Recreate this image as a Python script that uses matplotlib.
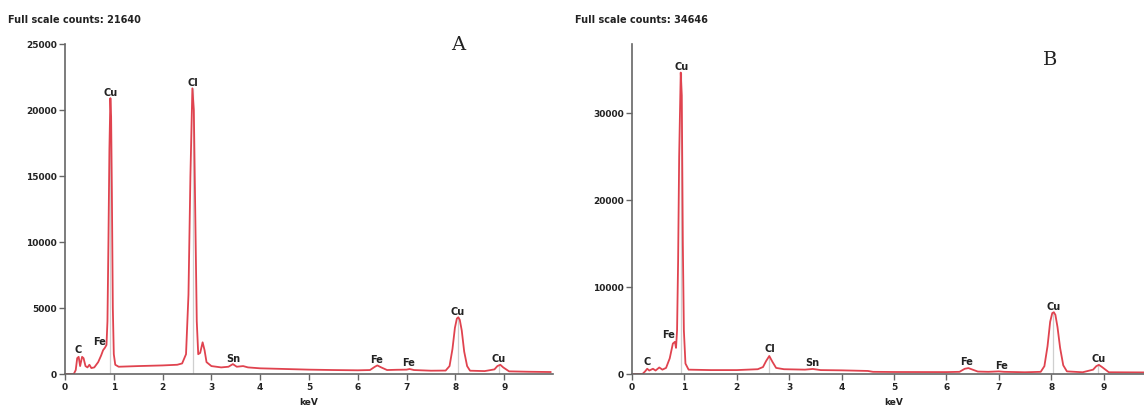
import numpy as np
import matplotlib
matplotlib.use("Agg")
import matplotlib.pyplot as plt

# spectrum A (keV, counts)
keA = [0.0, 0.18, 0.22, 0.25, 0.28, 0.31, 0.35, 0.38, 0.42, 0.46, 0.50, 0.54, 0.60, 0.68, 0.74,
       0.78, 0.82, 0.85, 0.87, 0.89, 0.91, 0.93, 0.945, 0.96, 0.98, 1.00, 1.03, 1.1, 1.5, 2.0,
       2.3, 2.4, 2.48, 2.53, 2.57, 2.61, 2.64, 2.67, 2.70, 2.73, 2.77, 2.82, 2.86, 2.9, 3.0,
       3.2, 3.35, 3.44, 3.52, 3.65, 3.75, 4.0, 4.5, 5.0, 5.5, 6.0, 6.25, 6.35, 6.4, 6.48, 6.6,
       6.8, 7.0, 7.06, 7.15, 7.5, 7.8, 7.88, 7.94, 7.99, 8.03, 8.06, 8.09, 8.13, 8.18, 8.24,
       8.3, 8.6, 8.8, 8.86, 8.92, 8.98, 9.1, 9.5, 9.95]
cntA = [0, 0, 300, 1200, 1300, 600, 1300, 1200, 600, 500, 700, 450, 500, 900, 1400,
        1800, 2000, 2200, 4000, 10000, 17000, 20900, 19500, 14000, 5000, 1500, 700, 550, 600, 650,
        700, 800, 1500, 6000, 15000, 21640, 20000, 12000, 4000, 1500, 1600, 2400, 1800, 900, 600,
        500, 550, 750, 550, 600, 500, 430, 380, 330, 300, 280, 300, 550, 650, 500, 300,
        320, 330, 380, 300, 250, 260, 600, 1900, 3500, 4200, 4300, 4100, 3300, 1700, 600,
        250, 220, 350, 600, 700, 500, 200, 170, 150]

# spectrum B (keV, counts)
keB = [0.0, 0.2, 0.25, 0.29, 0.33, 0.4, 0.45, 0.52, 0.58, 0.65, 0.72, 0.78, 0.82, 0.84, 0.86,
       0.88, 0.90, 0.93, 0.95, 0.97, 0.99, 1.02, 1.08, 1.5, 2.0, 2.4, 2.5, 2.56, 2.62, 2.68,
       2.75, 2.9, 3.3, 3.45, 3.6, 4.0, 4.5, 4.6, 5.0, 6.0, 6.25, 6.35, 6.42, 6.5, 6.6, 6.8,
       7.0, 7.1, 7.5, 7.8, 7.87, 7.93, 7.98, 8.02, 8.05, 8.08, 8.12, 8.17, 8.23, 8.3, 8.6,
       8.8, 8.86, 8.91, 8.97, 9.1, 9.8]
cntB = [0, 0, 300, 600, 400, 600, 400, 750, 500, 700, 1800, 3500, 3700, 3000, 5000,
        13000, 25000, 34646, 32000, 15000, 5000, 1200, 500, 450, 450, 550, 800, 1500, 2070, 1400,
        700, 550, 500, 580, 450, 420, 350, 250, 230, 220, 250, 600, 680, 500, 280, 250,
        300, 250, 200, 250, 900, 3200, 6000, 7000, 7100, 6800, 5400, 3000, 1000, 300, 200,
        500, 900, 1050, 800, 200, 180]

# peak labels
labA = ["C", "Fe", "Cu", "Cl", "Sn", "Fe", "Fe", "Cu", "Cu"]
labA_x = [0.27, 0.70, 0.94, 2.62, 3.44, 6.39, 7.05, 8.05, 8.89]
labA_y = [1890, 2500, 21360, 22120, 1210, 1140, 910, 4770, 1210]
labB = ["C", "Fe", "Cu", "Cl", "Sn", "Fe", "Fe", "Cu", "Cu"]
labB_x = [0.29, 0.69, 0.95, 2.63, 3.45, 6.39, 7.06, 8.05, 8.91]
labB_y = [1490, 4600, 35390, 2990, 1380, 1490, 1030, 7810, 1840]

# marker lines (keV, height)
markA_x = [0.93, 2.62, 8.05, 8.9]
markA_h = [20900, 21640, 4300, 700]
markB_x = [0.93, 2.62, 8.04, 8.9]
markB_h = [34646, 2070, 7100, 1050]

fig = plt.figure(figsize=(11.44, 4.14), dpi=100)
W, H = 1144, 414

def panel(x0, x1, ytop, xmax, ymax, yticks, ke, cnt, labs, lx, ly, mx, mh, full, letter, lpos):
    ax = fig.add_axes([x0 / W, 1 - 375 / H, (x1 - x0) / W, (375 - ytop) / H])
    ax.vlines(mx, 0, mh, color="#cfcfcf", lw=0.9, zorder=1)
    ax.plot(ke, cnt, color="#e0434f", lw=1.3, zorder=2)
    ax.set_xlim(0, xmax)
    ax.set_ylim(0, ymax)
    ax.set_xticks(range(0, 10))
    ax.set_yticks(yticks)
    for s in ["top", "right"]:
        ax.spines[s].set_visible(False)
    for s in ["left", "bottom"]:
        ax.spines[s].set_color("#666666")
        ax.spines[s].set_linewidth(1.2)
    ax.tick_params(direction="out", length=4, width=1, colors="#666666", labelcolor="#222222",
                   labelsize=6.5, pad=2)
    for t in ax.get_xticklabels() + ax.get_yticklabels():
        t.set_fontweight("bold")
    for s, x, y in zip(labs, lx, ly):
        ax.text(x, y, s, ha="center", va="center", fontsize=7, fontweight="bold", color="#222222")
    ax.set_xlabel("keV", fontsize=6.5, fontweight="bold", color="#222222", labelpad=2)
    ax.xaxis.set_label_coords(5 / xmax, -0.07)
    fig.text(full[0] / W, 1 - full[1] / H, full[2], fontsize=7, fontweight="bold",
             color="#222222", va="center")
    fig.text(lpos[0] / W, 1 - lpos[1] / H, letter, fontsize=14, family="DejaVu Serif",
             color="#222222", ha="center", va="center")
    return ax

panel(65, 553, 45, 10.0, 25000, [0, 5000, 10000, 15000, 20000, 25000],
      keA, cntA, labA, labA_x, labA_y, markA_x, markA_h,
      (8, 20, "Full scale counts: 21640"), "A", (458, 45))
panel(632, 1144, 45, (1144 - 632) / 52.4, 37930, [0, 10000, 20000, 30000],
      keB, cntB, labB, labB_x, labB_y, markB_x, markB_h,
      (575, 20, "Full scale counts: 34646"), "B", (1050, 60))

fig.savefig("out.png", dpi=100)
